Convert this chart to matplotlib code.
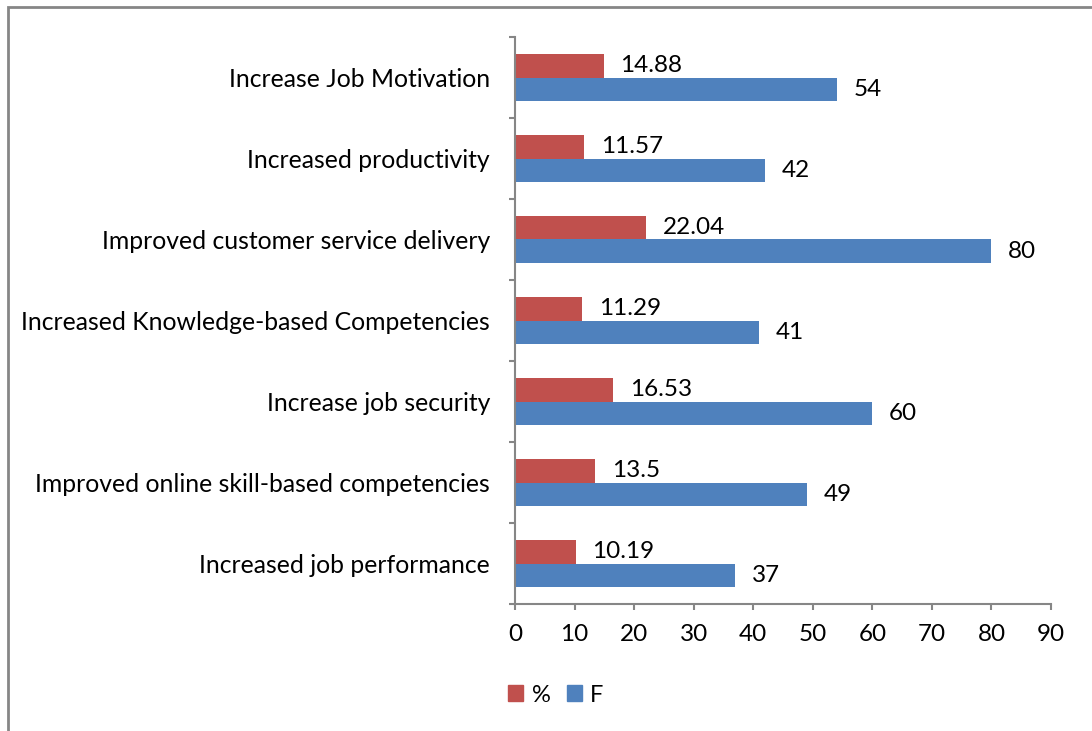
import matplotlib.pyplot as plt
import matplotlib.patches as mpatches
import numpy as np

# Data (top to bottom as shown in chart)
categories = [
    "Increase Job Motivation",
    "Increased productivity",
    "Improved customer service delivery",
    "Increased Knowledge-based Competencies",
    "Increase job security",
    "Improved online skill-based competencies",
    "Increased job performance",
]
pct_values = [14.88, 11.57, 22.04, 11.29, 16.53, 13.5, 10.19]
f_values = [54, 42, 80, 41, 60, 49, 37]
pct_labels = ["14.88", "11.57", "22.04", "11.29", "16.53", "13.5", "10.19"]
f_labels = ["54", "42", "80", "41", "60", "49", "37"]

red = "#C0504D"
blue = "#4F81BD"
axis_gray = "#868686"

plt.rcParams["font.family"] = ["Lato", "DejaVu Sans"]

fig = plt.figure(figsize=(10.92, 7.31), dpi=100)
ax = fig.add_axes([515 / 1092, 127 / 731, 536 / 1092, 567 / 731])

n = len(categories)
y = np.arange(n)[::-1].astype(float)  # first category at top
h = 0.284

ax.barh(y + h / 2, pct_values, height=h, color=red)
ax.barh(y - h / 2, f_values, height=h, color=blue)

for yi, v, lab in zip(y, pct_values, pct_labels):
    ax.annotate(lab, (v, yi + h / 2), xytext=(12, 0), textcoords="offset points",
                va="center", ha="left", fontsize=17.5)
for yi, v, lab in zip(y, f_values, f_labels):
    ax.annotate(lab, (v, yi - h / 2), xytext=(12, 0), textcoords="offset points",
                va="center", ha="left", fontsize=17.5)

ax.set_xlim(0, 90)
ax.set_ylim(-0.5, n - 0.5)
ax.set_xticks(np.arange(0, 91, 10))
ax.tick_params(axis="x", labelsize=17.5, colors=axis_gray, labelcolor="black",
               length=4.5, width=1.5, direction="out", pad=10)

# category labels without tick marks, tick marks at boundaries
ax.set_yticks(y)
ax.set_yticklabels(categories, fontsize=17.8)
ax.tick_params(axis="y", which="major", length=0, pad=18)
ax.set_yticks(np.arange(-0.5, n, 1.0), minor=True)
ax.tick_params(axis="y", which="minor", length=4.5, width=1.5, color=axis_gray,
               direction="out")

for s in ["top", "right"]:
    ax.spines[s].set_visible(False)
for s in ["left", "bottom"]:
    ax.spines[s].set_color(axis_gray)
    ax.spines[s].set_linewidth(1.5)

# legend
handles = [mpatches.Patch(color=red, label="%"), mpatches.Patch(color=blue, label="F")]
fig.legend(handles=handles, loc="center", bbox_to_anchor=(556 / 1092, 1 - 695 / 731),
           ncol=2, frameon=False, fontsize=17, handlelength=0.63, handleheight=0.63,
           handletextpad=0.35, columnspacing=0.7)

# outer chart border
frame = mpatches.Rectangle((8 / 1092, -0.05), 1.1, 1 - 7 / 731 + 0.05,
                           transform=fig.transFigure, fill=False,
                           edgecolor=axis_gray, linewidth=2, clip_on=False)
fig.patches.append(frame)

fig.savefig("out.png", dpi=100)
